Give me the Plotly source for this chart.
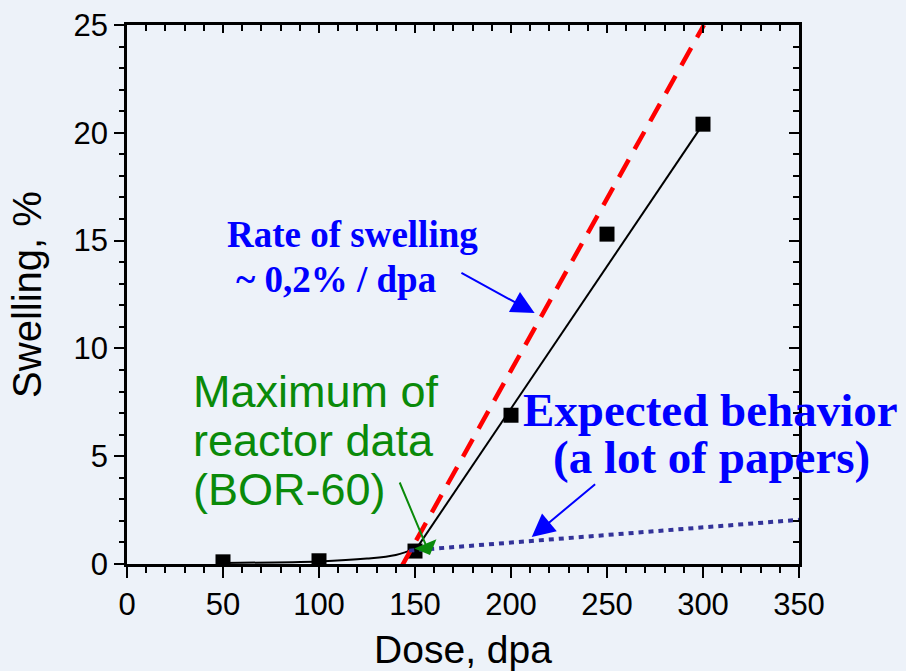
import plotly.graph_objects as go

# Data
dose_points = [50, 100, 150, 200, 250, 300]
swelling_points = [0.1, 0.15, 0.6, 6.9, 15.3, 20.4]

curve_dose = [50, 100, 125, 140, 151]
curve_swelling = [0.05, 0.12, 0.25, 0.42, 0.75]

linear_dose = [151, 300]
linear_swelling = [0.75, 20.4]

rate_dose = [142.5, 300.5]
rate_swelling = [-0.2, 25.0]

expected_dose = [147, 350]
expected_swelling = [0.62, 2.05]

x_ticks = [0, 50, 100, 150, 200, 250, 300, 350]
y_ticks = [0, 5, 10, 15, 20, 25]

green_lines = ["Maximum of", "reactor data", "(BOR-60)"]

ARIAL = "Arial, 'Liberation Sans', sans-serif"
TIMES = "'Times New Roman', 'Liberation Serif', serif"

fig = go.Figure()
fig.add_trace(go.Scatter(x=dose_points, y=swelling_points, mode="markers",
                         marker=dict(symbol="square", size=15, color="black",
                                     line=dict(width=0)),
                         showlegend=False, hoverinfo="skip"))
fig.add_trace(go.Scatter(x=curve_dose, y=curve_swelling, mode="lines",
                         line=dict(color="black", width=2, shape="spline", smoothing=1.0),
                         showlegend=False, hoverinfo="skip"))
fig.add_trace(go.Scatter(x=linear_dose, y=linear_swelling, mode="lines",
                         line=dict(color="black", width=2),
                         showlegend=False, hoverinfo="skip"))
fig.add_trace(go.Scatter(x=rate_dose, y=rate_swelling, mode="lines",
                         line=dict(color="#ff0000", width=4.5, dash="20px,12px"),
                         showlegend=False, hoverinfo="skip"))
fig.add_trace(go.Scatter(x=expected_dose, y=expected_swelling, mode="lines",
                         line=dict(color="#333399", width=4, dash="5px,5px"),
                         showlegend=False, hoverinfo="skip"))
# dummy trace for mirrored axes
fig.add_trace(go.Scatter(x=[None], y=[None], xaxis="x2", yaxis="y2",
                         showlegend=False, hoverinfo="skip"))

axis_common = dict(showline=True, linecolor="black", linewidth=2.5, showgrid=False,
                   zeroline=False, tickcolor="black", tickwidth=2, automargin=False)

fig.update_layout(
    width=906, height=671,
    margin=dict(l=127, r=107, t=25, b=107, autoexpand=False),
    paper_bgcolor="#edf2f9",
    plot_bgcolor="rgba(0,0,0,0)",
    font=dict(family=ARIAL, color="black", size=31),
    xaxis=dict(range=[0, 350], tickvals=x_ticks, ticks="outside", ticklen=11,
               minor=dict(dtick=10, ticks="outside", ticklen=6, tickcolor="black", tickwidth=2),
               tickfont=dict(size=31, family=ARIAL),
               title=dict(text="Dose, dpa", font=dict(size=39, family=ARIAL), standoff=18),
               **axis_common),
    yaxis=dict(range=[0, 25], tickvals=y_ticks, ticks="outside", ticklen=10,
               minor=dict(dtick=1, ticks="outside", ticklen=5, tickcolor="black", tickwidth=2),
               tickfont=dict(size=31, family=ARIAL),
               title=dict(text="Swelling, %", font=dict(size=40, family=ARIAL), standoff=20),
               **axis_common),
    xaxis2=dict(range=[0, 350], overlaying="x", side="top", anchor="y2",
                tickvals=x_ticks, ticks="inside", ticklen=8, showticklabels=False,
                minor=dict(dtick=10, ticks="inside", ticklen=6, tickcolor="black", tickwidth=2),
                **axis_common),
    yaxis2=dict(range=[0, 25], overlaying="y", side="right", anchor="x2",
                tickvals=y_ticks, ticks="inside", ticklen=10, showticklabels=False,
                minor=dict(dtick=1, ticks="inside", ticklen=6, tickcolor="black", tickwidth=2),
                **axis_common),
)

blue_bold = dict(family=TIMES, color="#0000ff", size=37)
fig.add_annotation(x=117.7, y=15.3, text="<b>Rate of swelling</b>", showarrow=False,
                   font=blue_bold, xanchor="center", yanchor="middle")
fig.add_annotation(x=108.9, y=13.2, text="<b>~ 0,2% / dpa</b>", showarrow=False,
                   font=blue_bold, xanchor="center", yanchor="middle")
big_blue = dict(family=TIMES, color="#0000ff", size=47)
fig.add_annotation(x=303.9, y=7.15, text="<b>Expected behavior</b>", showarrow=False,
                   font=big_blue, xanchor="center", yanchor="middle")
fig.add_annotation(x=304.4, y=4.95, text="<b>(a lot of papers)</b>", showarrow=False,
                   font=big_blue, xanchor="center", yanchor="middle")
green = dict(family=ARIAL, color="#0a8a0a", size=45)
for txt, yv in zip(green_lines, [8.0, 5.72, 3.44]):
    fig.add_annotation(x=34.1, y=yv, text=txt, showarrow=False, font=green,
                       xanchor="left", yanchor="middle", borderpad=0)

# arrows
for (tx, ty, hx, hy, col, head, size) in [(173.4, 13.54, 212.3, 11.64, "#0000ff", 2, 2.3),
                                          (244.6, 3.76, 210.8, 1.25, "#0000ff", 2, 2.3),
                                          (141.7, 3.85, 157.8, 0.42, "#0a8a0a", 1, 2.0)]:
    fig.add_annotation(x=hx, y=hy, ax=tx, ay=ty, xref="x", yref="y", axref="x", ayref="y",
                       text="", showarrow=True, arrowhead=head, arrowsize=size, arrowwidth=2,
                       arrowcolor=col, standoff=0)

fig.write_html("out.html")
